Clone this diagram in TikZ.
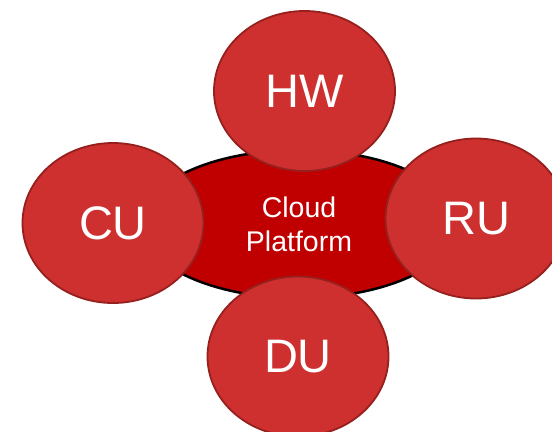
\documentclass[tikz,border=0pt]{standalone}
\usepackage{fontspec}
\setmainfont{Liberation Sans}
\usetikzlibrary{shapes.geometric}
\definecolor{platred}{RGB}{192,0,0}
\definecolor{unitred}{RGB}{205,48,46}
\definecolor{unitedge}{RGB}{150,32,30}
\tikzset{
  platform/.style={ellipse, draw=black, line width=2.5bp, fill=platred, minimum width=316bp, minimum height=148bp, inner sep=0pt, text=white, align=center, font=\fontsize{28.5bp}{34bp}\selectfont},
  unit/.style={ellipse, draw=unitedge, line width=1.8bp, fill=unitred, minimum width=181bp, minimum height=160bp, inner sep=0pt, text=white, font=\fontsize{47bp}{50bp}\selectfont}
}
\begin{document}
\begin{tikzpicture}[x=1bp,y=-1bp]
\useasboundingbox (0,0) rectangle (552,431);
\node[platform] (cp) at (299,224) {Cloud\\Platform};
\node[unit] (hw) at (304.5,91) {HW};
\node[unit] (cu) at (113,223) {CU};
\node[unit] (ru) at (476,218.5) {RU};
\node[unit] (du) at (298,356.5) {DU};
\end{tikzpicture}
\end{document}
